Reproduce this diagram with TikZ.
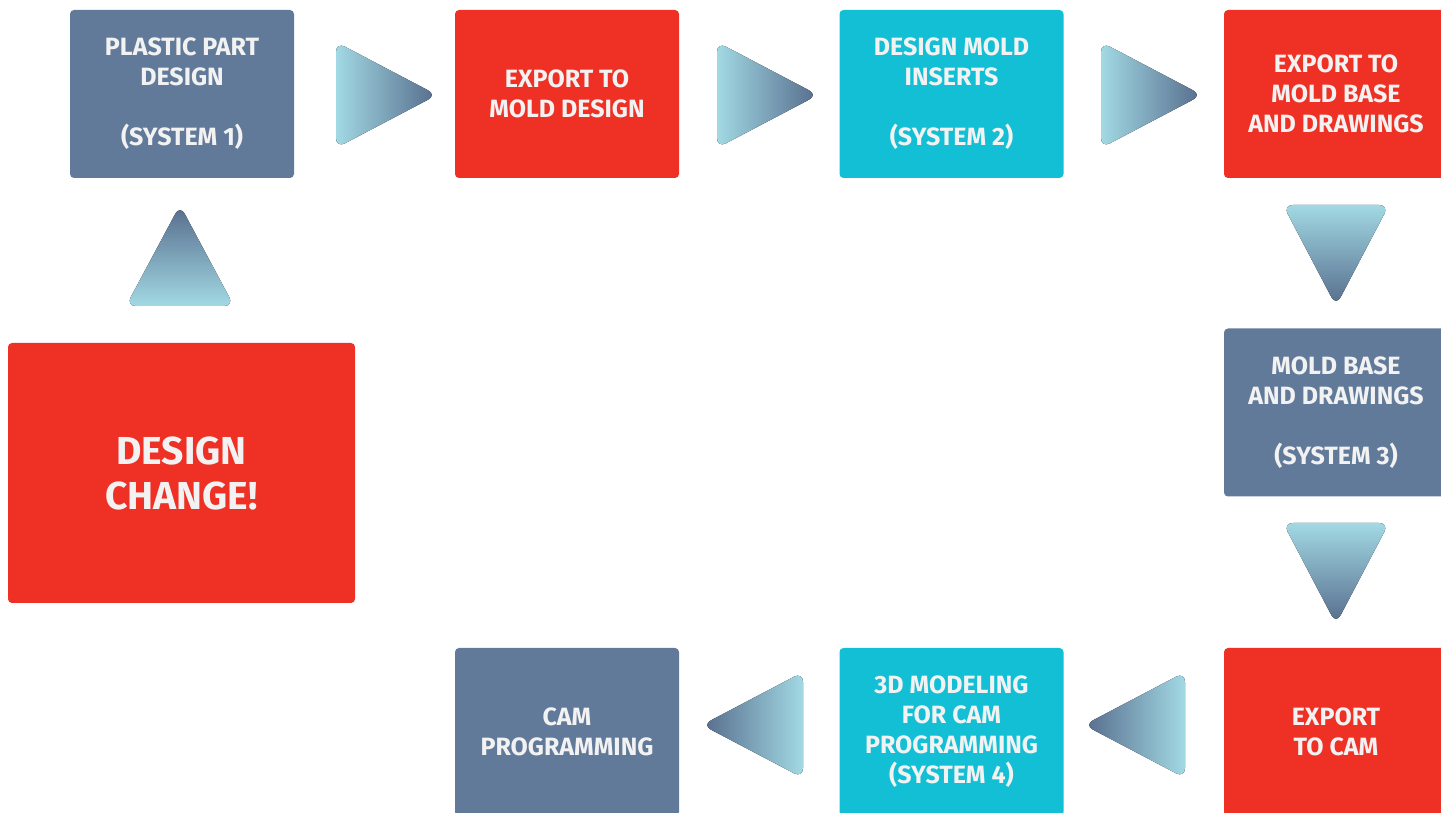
\documentclass[tikz,border=0pt]{standalone}
\usepackage{fontspec}
\setmainfont{Fira Sans}
\definecolor{slate}{HTML}{627A99}
\definecolor{flowred}{HTML}{EE3124}
\definecolor{flowcyan}{HTML}{12BFD4}
\definecolor{boxtext}{HTML}{F2F2F2}
\definecolor{trilite}{HTML}{A2D9E4}
\definecolor{tridark}{HTML}{566C8C}
\begin{document}
\begin{tikzpicture}[x=1pt, y=1pt, line join=round,
		box/.style={rounded corners=4pt, minimum width=224pt, minimum height=168pt, inner sep=0pt, align=center, text=boxtext, font=\fontsize{25}{30}\selectfont\bfseries},
		toright/.style={rounded corners=10pt, left color=trilite, right color=tridark},
		toleft/.style={rounded corners=10pt, left color=tridark, right color=trilite},
		todown/.style={rounded corners=10pt, top color=trilite, bottom color=tridark},
		toup/.style={rounded corners=10pt, top color=tridark, bottom color=trilite}]
	\useasboundingbox (0,0) rectangle (1441,812);
	\clip (0,0) rectangle (1441,812);
	% top row
	\node[box, fill=slate] (part) at (182,718) {PLASTIC PART\\DESIGN\\[30pt](SYSTEM 1)};
	\node[box, fill=flowred] (exportmold) at (567,718) {EXPORT TO\\MOLD DESIGN};
	\node[box, fill=flowcyan] (inserts) at (951.5,718) {DESIGN MOLD\\INSERTS\\[30pt](SYSTEM 2)};
	\node[box, fill=flowred] (exportbase) at (1336,718) {EXPORT TO\\MOLD BASE\\AND DRAWINGS};
	% right column and bottom row
	\node[box, fill=slate] (moldbase) at (1336,399.5) {MOLD BASE\\AND DRAWINGS\\[30pt](SYSTEM 3)};
	\node[box, fill=flowred] (exportcam) at (1336,80) {EXPORT\\TO CAM};
	\node[box, fill=flowcyan] (modeling) at (951.5,80) {3D MODELING\\FOR CAM\\PROGRAMMING\\(SYSTEM 4)};
	\node[box, fill=slate] (camprog) at (567,80) {CAM\\PROGRAMMING};
	\node[box, fill=flowred, minimum width=347pt, minimum height=260pt, font=\fontsize{39}{45}\selectfont\bfseries] (change) at (181.5,339) {DESIGN\\CHANGE!};
	% triangles
	\coordinate (R1) at (336,717);
	\coordinate (R2) at (717,717);
	\coordinate (R3) at (1101,717);
	\coordinate (D1) at (1336,607);
	\coordinate (D2) at (1336,289);
	\coordinate (L1) at (1185,87);
	\coordinate (L2) at (803,87);
	\coordinate (U1) at (180,506);
	\fill[toright] (R1) -- ++(0,53) -- ++(101,-53) -- ++(-101,-53) -- cycle;
	\fill[toright] (R2) -- ++(0,53) -- ++(101,-53) -- ++(-101,-53) -- cycle;
	\fill[toright] (R3) -- ++(0,53) -- ++(101,-53) -- ++(-101,-53) -- cycle;
	\fill[todown] (D1) -- ++(-53,0) -- ++(53,-101) -- ++(53,101) -- cycle;
	\fill[todown] (D2) -- ++(-53,0) -- ++(53,-101) -- ++(53,101) -- cycle;
	\fill[toleft] (L1) -- ++(0,53) -- ++(-101,-53) -- ++(101,-53) -- cycle;
	\fill[toleft] (L2) -- ++(0,53) -- ++(-101,-53) -- ++(101,-53) -- cycle;
	\fill[toup] (U1) -- ++(-54,0) -- ++(54,101) -- ++(54,-101) -- cycle;
\end{tikzpicture}
\end{document}
